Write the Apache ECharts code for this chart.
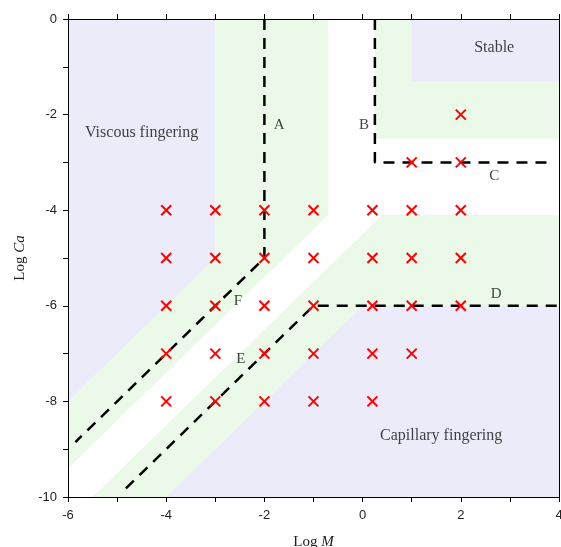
<!DOCTYPE html>
<html>
<head>
<meta charset="utf-8">
<script src="https://cdn.jsdelivr.net/npm/echarts@6/dist/echarts.min.js"></script>
<style>
  html, body { margin: 0; padding: 0; background: #ffffff; }
  #chart { width: 561px; height: 547px; }
</style>
</head>
<body>
<div id="chart"></div>
<script>
// Axis ranges (log M, log Ca)
const xRange = [-6, 4];
const yRange = [-10, 0];

// Regime regions, polygon vertices in (log M, log Ca)
const viscousRegion = [[-6, 0], [-3, 0], [-3, -5], [-6, -8]];
const stableRegion = [[1, 0], [4, 0], [4, -1.3], [1, -1.3]];
const capillaryRegion = [[-4, -10], [0, -6], [4, -6], [4, -10]];

// Crossover zones around the regime boundaries
const crossoverViscous = [[-3, 0], [-0.7, 0], [-0.7, -4.1], [-6, -9.4], [-6, -8], [-3, -5]];
const crossoverStable = [[0.25, 0], [4, 0], [4, -2.5], [0.25, -2.5]];
const crossoverCapillary = [[-5.5, -10], [0.4, -4.1], [4, -4.1], [4, -6], [0, -6], [-4, -10]];

// Regime boundaries (dashed)
const boundaryAF = [[-2, 0], [-2, -5], [-5.85, -8.85]];
const boundaryBC = [[0.25, 0], [0.25, -3], [3.85, -3]];
const boundaryED = [[-4.82, -9.82], [-1, -6], [4, -6]];

// Simulated cases (log M, log Ca)
const simulationCases = [
  [2, -2],
  [1, -3], [2, -3],
  [-4, -4], [-3, -4], [-2, -4], [-1, -4], [0.2, -4], [1, -4], [2, -4],
  [-4, -5], [-3, -5], [-2, -5], [-1, -5], [0.2, -5], [1, -5], [2, -5],
  [-4, -6], [-3, -6], [-2, -6], [-1, -6], [0.2, -6], [1, -6], [2, -6],
  [-4, -7], [-3, -7], [-2, -7], [-1, -7], [0.2, -7], [1, -7],
  [-4, -8], [-3, -8], [-2, -8], [-1, -8], [0.2, -8]
];

// Region and boundary annotations
const regimeNames = ['Viscous fingering', 'Stable', 'Capillary fingering'];
const regimeNameAt = [[-4.5, -2.38], [2.68, -0.6], [1.6, -8.73]];
const boundaryNames = ['A', 'B', 'C', 'D', 'E', 'F'];
const boundaryNameAt = [[-1.7, -2.21], [0.03, -2.21], [2.68, -3.28], [2.72, -5.76], [-2.48, -7.12], [-2.54, -5.91]];

const LAVENDER = '#ebebfa';
const PALE_GREEN = '#ebf9e8';
const SERIF = '"Liberation Serif", "Times New Roman", serif';
const SANS = '"Liberation Sans", Arial, sans-serif';

function regionSeries(points, color) {
  return {
    type: 'custom',
    coordinateSystem: 'cartesian2d',
    silent: true,
    z: 1,
    data: [points[0]],
    renderItem: function (params, api) {
      return {
        type: 'polygon',
        shape: { points: points.map(function (p) { return api.coord(p); }) },
        style: { fill: color }
      };
    }
  };
}

function boundarySeries(points) {
  return {
    type: 'line',
    data: points,
    symbol: 'none',
    silent: true,
    z: 3,
    lineStyle: { color: '#000000', width: 2.5, type: [11, 8], cap: 'butt' }
  };
}

function labelSeries(names, anchors, size) {
  return {
    type: 'scatter',
    symbolSize: 0,
    silent: true,
    z: 4,
    data: names.map(function (n, i) { return { name: n, value: anchors[i] }; }),
    label: {
      show: true,
      position: 'inside',
      formatter: '{b}',
      color: '#111111',
      fontFamily: SERIF,
      fontSize: size
    }
  };
}

const evenOnly = function (v) { return v % 2 === 0 ? String(v) : ''; };

const axisLineStyle = { show: true, onZero: false, lineStyle: { color: '#000000', width: 1 } };
const axisTickStyle = { show: true, inside: false, length: 5, lineStyle: { color: '#000000', width: 1 } };

const chart = echarts.init(document.getElementById('chart'), null, { renderer: 'canvas' });

chart.setOption({
  animation: false,
  backgroundColor: '#ffffff',
  grid: { left: 68, right: 2, top: 19, bottom: 50, containLabel: false, outerBoundsMode: 'none' },
  xAxis: [
    {
      type: 'value', position: 'bottom', z: 10,
      min: xRange[0], max: xRange[1], interval: 1,
      axisLine: axisLineStyle, axisTick: axisTickStyle,
      splitLine: { show: false },
      axisLabel: { formatter: evenOnly, color: '#222222', fontFamily: SANS, fontSize: 13, margin: 12 },
      name: '{n|Log }{i|M}',
      nameLocation: 'middle',
      nameGap: 38,
      nameTextStyle: {
        rich: {
          n: { fontFamily: SERIF, fontSize: 15, color: '#222222' },
          i: { fontFamily: SERIF, fontSize: 15, fontStyle: 'italic', color: '#222222' }
        }
      }
    },
    {
      type: 'value', position: 'top', z: 10,
      min: xRange[0], max: xRange[1], interval: 1,
      axisLine: axisLineStyle, axisTick: axisTickStyle,
      splitLine: { show: false }, axisLabel: { show: false }
    }
  ],
  yAxis: [
    {
      type: 'value', position: 'left', z: 10,
      min: yRange[0], max: yRange[1], interval: 1,
      axisLine: axisLineStyle, axisTick: axisTickStyle,
      splitLine: { show: false },
      axisLabel: { formatter: evenOnly, color: '#222222', fontFamily: SANS, fontSize: 13, margin: 11 },
      name: '{n|Log }{i|Ca}',
      nameLocation: 'middle',
      nameRotate: 90,
      nameGap: 40,
      nameTextStyle: {
        rich: {
          n: { fontFamily: SERIF, fontSize: 15, color: '#222222' },
          i: { fontFamily: SERIF, fontSize: 15, fontStyle: 'italic', color: '#222222' }
        }
      }
    },
    {
      type: 'value', position: 'right', z: 10,
      min: yRange[0], max: yRange[1], interval: 1,
      axisLine: axisLineStyle, axisTick: { show: false },
      splitLine: { show: false }, axisLabel: { show: false }
    }
  ],
  series: [
    // crossover zones first, regime regions on top of them
    regionSeries(crossoverViscous, PALE_GREEN),
    regionSeries(crossoverStable, PALE_GREEN),
    regionSeries(crossoverCapillary, PALE_GREEN),
    regionSeries(viscousRegion, LAVENDER),
    regionSeries(stableRegion, LAVENDER),
    regionSeries(capillaryRegion, LAVENDER),
    boundarySeries(boundaryAF),
    boundarySeries(boundaryBC),
    boundarySeries(boundaryED),
    {
      type: 'custom',
      coordinateSystem: 'cartesian2d',
      silent: true,
      z: 5,
      data: simulationCases,
      renderItem: function (params, api) {
        const c = api.coord([api.value(0), api.value(1)]);
        const h = 5;
        const style = { stroke: '#ff0000', lineWidth: 2 };
        return {
          type: 'group',
          children: [
            { type: 'line', shape: { x1: c[0] - h, y1: c[1] - h, x2: c[0] + h, y2: c[1] + h }, style: style },
            { type: 'line', shape: { x1: c[0] - h, y1: c[1] + h, x2: c[0] + h, y2: c[1] - h }, style: style }
          ]
        };
      }
    },
    labelSeries(regimeNames, regimeNameAt, 16),
    labelSeries(boundaryNames, boundaryNameAt, 15)
  ]
});
</script>
</body>
</html>
